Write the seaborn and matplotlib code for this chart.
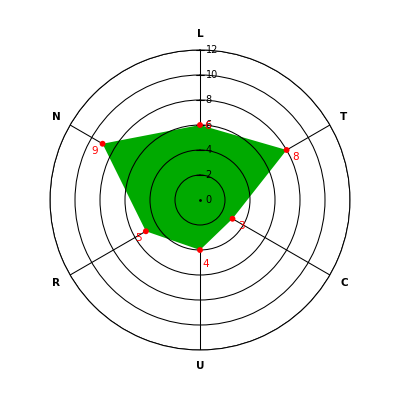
import numpy as np
import pandas as pd
import matplotlib
matplotlib.use("Agg")
import matplotlib.pyplot as plt
import seaborn as sns

categories = ["L", "T", "C", "U", "R", "N"]
values = [6, 8, 3, 4, 5, 9]
r_ticks = [0, 2, 4, 6, 8, 10, 12]

sns.set_style("white")
plt.rcParams["font.family"] = ["DejaVu Sans"]

fig = plt.figure(figsize=(4, 4), dpi=100)
ax = fig.add_axes([0.125, 0.125, 0.75, 0.75], projection="polar")
ax.set_theta_zero_location("N")
ax.set_theta_direction(-1)
rmax = max(r_ticks)
ax.set_ylim(0, rmax)

n = len(categories)
angles = np.arange(n) * 2 * np.pi / n
df = pd.DataFrame({"cat": categories, "angle": angles, "value": values})

# spokes (below the fill)
for a in angles:
    ax.plot([a, a], [0, rmax], color="black", linewidth=0.75, zorder=1)

# filled polygon
ang_c = np.append(angles, angles[0])
val_c = np.append(values, values[0])
ax.fill(ang_c, val_c, color="#00AA00", zorder=2, linewidth=0)

# circular grid (above the fill)
ax.set_yticks(r_ticks[1:])
ax.set_yticklabels([])
ax.set_xticks(angles)
ax.set_xticklabels([])
ax.xaxis.grid(False)
ax.yaxis.grid(True, color="black", linewidth=0.75, linestyle="-")
ax.set_axisbelow(False)
ax.spines["polar"].set_color("black")
ax.spines["polar"].set_linewidth(0.75)

# radial tick labels along the top spoke
for t in r_ticks:
    ax.annotate(str(t), xy=(0, t), xytext=(4, 0), textcoords="offset points",
                ha="left", va="center", fontsize=7, color="black", zorder=5)
for t in r_ticks[1:]:
    ax.plot([0, 0], [t, t], marker="_", markersize=6, color="black",
            markeredgewidth=0.75, zorder=5, clip_on=False)
ax.plot([0], [0], marker=".", markersize=2, color="black", zorder=5)

# points
sns.scatterplot(data=df, x="angle", y="value", ax=ax, color="#FF0000",
                s=18, edgecolor="none", zorder=6, legend=False)
ax.set_xlabel("")
ax.set_ylabel("")

# value labels
for a, v in zip(angles, values):
    s = np.sin(a)
    if abs(s) < 1e-6:
        dx, dy = (3, -1) if np.cos(a) > 0 else (2, -10)
    elif s > 0:
        dx, dy = 4, -5
    else:
        dx, dy = -3, -5
    ax.annotate(str(v), xy=(a, v), xytext=(dx, dy), textcoords="offset points",
                ha="left" if dx > 0 else "right", va="center",
                fontsize=7.5, color="#FF0000", zorder=7)

# category labels
for a, c in zip(angles, categories):
    ax.text(a, 13.3, c, ha="center", va="center", fontsize=7.5,
            fontweight="bold", color="black", clip_on=False)

fig.savefig("out.png", dpi=100, facecolor="white")
